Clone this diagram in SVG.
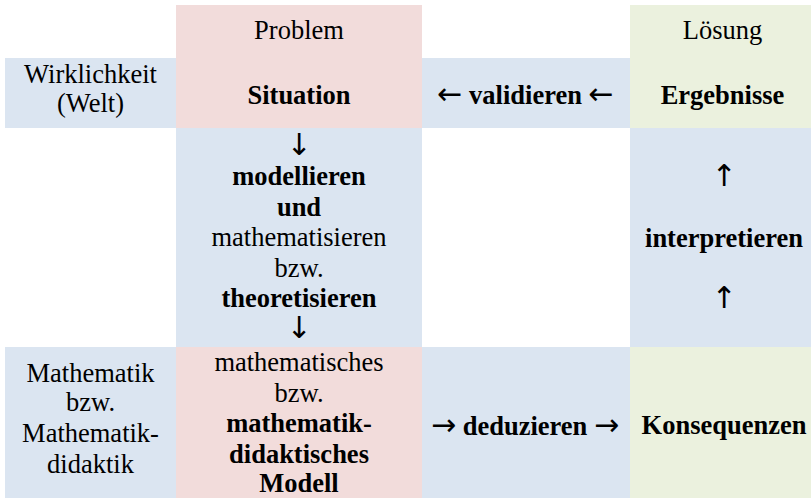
<svg xmlns="http://www.w3.org/2000/svg" width="811" height="498" viewBox="0 0 811 498">
<style>
.blue{fill:#DBE5F1}
.pink{fill:#F2DCDB}
.green{fill:#EBF1DE}
text{font-family:"Liberation Serif","Times New Roman",serif;font-size:26.5px;fill:#000;text-anchor:middle}
.b{font-weight:bold}
.ar{font-family:"DejaVu Sans",sans-serif;font-size:30px;font-weight:normal}
</style>
<rect width="811" height="498" fill="#fff"/>
<g id="wirklichkeit">
<rect class="blue" x="5" y="58" width="171" height="70"/>
<text x="90.5" y="83">Wirklichkeit</text>
<text x="90.5" y="112">(Welt)</text>
</g>
<g id="situation">
<rect class="pink" x="176" y="5" width="246" height="123"/>
<text x="299" y="39">Problem</text>
<text x="299" y="103.5" class="b">Situation</text>
</g>
<g id="ergebnisse">
<rect class="green" x="630" y="5" width="181" height="123"/>
<text x="722.5" y="39">Lösung</text>
<text x="722.5" y="103.5" class="b">Ergebnisse</text>
</g>
<g id="mathematik">
<rect class="blue" x="5" y="347" width="171" height="151"/>
<text x="90.5" y="381.5">Mathematik</text>
<text x="90.5" y="411">bzw.</text>
<text x="90.5" y="441.5">Mathematik-</text>
<text x="90.5" y="472.5">didaktik</text>
</g>
<g id="modell">
<rect class="pink" x="176" y="347" width="246" height="151"/>
<text x="299" y="370.5">mathematisches</text>
<text x="299" y="401.5">bzw.</text>
<text x="299" y="432" class="b">mathematik-</text>
<text x="299" y="462.5" class="b">didaktisches</text>
<text x="299" y="492" class="b">Modell</text>
</g>
<g id="konsequenzen">
<rect class="green" x="630" y="347" width="181" height="151"/>
<text x="724" y="434" class="b">Konsequenzen</text>
</g>
<g id="connectors">
<g id="validieren">
<rect class="blue" x="422" y="58" width="208" height="70"/>
<text x="525.5" y="103.5" class="b"><tspan class="ar">←</tspan> validieren <tspan class="ar">←</tspan></text>
</g>
<g id="modellieren">
<rect class="blue" x="176" y="128" width="246" height="219"/>
<text x="299" y="154.5" class="ar">↓</text>
<text x="299" y="185" class="b">modellieren</text>
<text x="299" y="215.5" class="b">und</text>
<text x="299" y="246">mathematisieren</text>
<text x="299" y="276.5">bzw.</text>
<text x="299" y="307" class="b">theoretisieren</text>
<text x="299" y="338" class="ar">↓</text>
</g>
<g id="interpretieren">
<rect class="blue" x="630" y="128" width="181" height="219"/>
<text x="724" y="186" class="ar">↑</text>
<text x="724" y="246.5" class="b">interpretieren</text>
<text x="724" y="308" class="ar">↑</text>
</g>
<g id="deduzieren">
<rect class="blue" x="422" y="347" width="208" height="151"/>
<text x="525" y="434.5" class="b"><tspan class="ar">→</tspan> deduzieren <tspan class="ar">→</tspan></text>
</g>
</g>
</svg>
